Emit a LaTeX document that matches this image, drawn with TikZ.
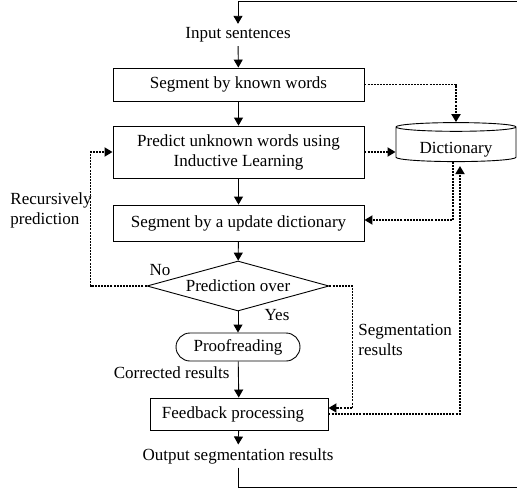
\documentclass[tikz,border=0pt]{standalone}
\usepackage{fontspec}
\setmainfont{Liberation Serif}
\usetikzlibrary{shapes.geometric,shapes.misc,arrows.meta}
\begin{document}
\begin{tikzpicture}[x=1pt,y=-1pt,line width=0.9pt,font=\fontsize{17}{20}\selectfont,
        box/.style={draw,minimum width=251pt,minimum height=33pt,inner sep=0pt,align=center},
        arr/.style={-{Triangle[length=8pt,width=9pt]}},
        dots/.style={line width=1.8pt,dash pattern=on 2pt off 1.1pt}]
        \useasboundingbox (0,0) rectangle (517,488);
        \coordinate (topr) at (517,1);
        \coordinate (botr) at (517,487);
        \node (input) at (238,35) {Input sentences};
        \node[box] (seg1) at (238.5,84.5) {Segment by known words};
        \node[box,minimum height=52pt] (pred) at (238.5,152) {Predict unknown words using\\Inductive Learning};
        \node[box,minimum height=36pt] (seg2) at (238.5,223) {Segment by a update dictionary};
        \node[draw,cylinder,shape border rotate=90,aspect=0.12,minimum width=120pt,minimum height=39pt,inner sep=0pt,
              label={[inner sep=0pt,yshift=-5pt]center:Dictionary}] (dict) at (456,144.5) {\phantom{Dictionary}};
        \node[draw,diamond,aspect=3.6,minimum width=182pt,minimum height=50pt,inner sep=0pt] (dec) at (238,286) {Prediction over};
        \node[draw,rounded rectangle,minimum width=124pt,minimum height=28pt,inner sep=0pt] (proof) at (238,347) {Proofreading};
        \node[box,minimum width=178pt,minimum height=32pt] (feed) at (239,414) {Feedback processing\hspace*{12pt}};
        \node (output) at (238,456) {Output segmentation results};
        \node[anchor=east,inner sep=0pt] (corr) at (230,373) {Corrected results};
        \node[inner sep=0pt] (yes) at (277,315) {Yes};
        \node[inner sep=0pt] (no) at (160,270) {No};
        \node[anchor=north west,align=left,inner sep=0pt] (segres) at (358,324) {Segmentation\\results};
        \node[anchor=west,align=left,inner sep=0pt] (recur) at (10,210) {Recursively\\prediction};
        \draw[arr] (topr) -| (input.north);
        \draw[arr] (input) -- (seg1);
        \draw[arr] (seg1) -- (pred);
        \draw[arr] (pred) -- (seg2);
        \draw[arr] (seg2) -- (dec);
        \draw[arr] (dec) -- (proof);
        \draw[arr] (proof) -- (feed);
        \draw[arr] (feed) -- (output);
        \draw (output.south) |- (botr);
        \draw[dots,arr] (seg1.east) -| (dict.north);
        \draw[dots,arr] (pred.east) -- (pred.east -| dict.west);
        \draw[dots,arr] ([xshift=-3pt]dict.south) |- ([yshift=3pt]seg2.east);
        \draw[dots,arr] (feed.east) -| ([xshift=4pt,yshift=-4pt]dict.south);
        \draw[dots,arr] (dec.east) -- ++(23,0) |- ([yshift=6pt]feed.east);
        \draw[dots,arr] (dec.west) -- ++(-56,0) |- (pred.west);
\end{tikzpicture}
\end{document}
